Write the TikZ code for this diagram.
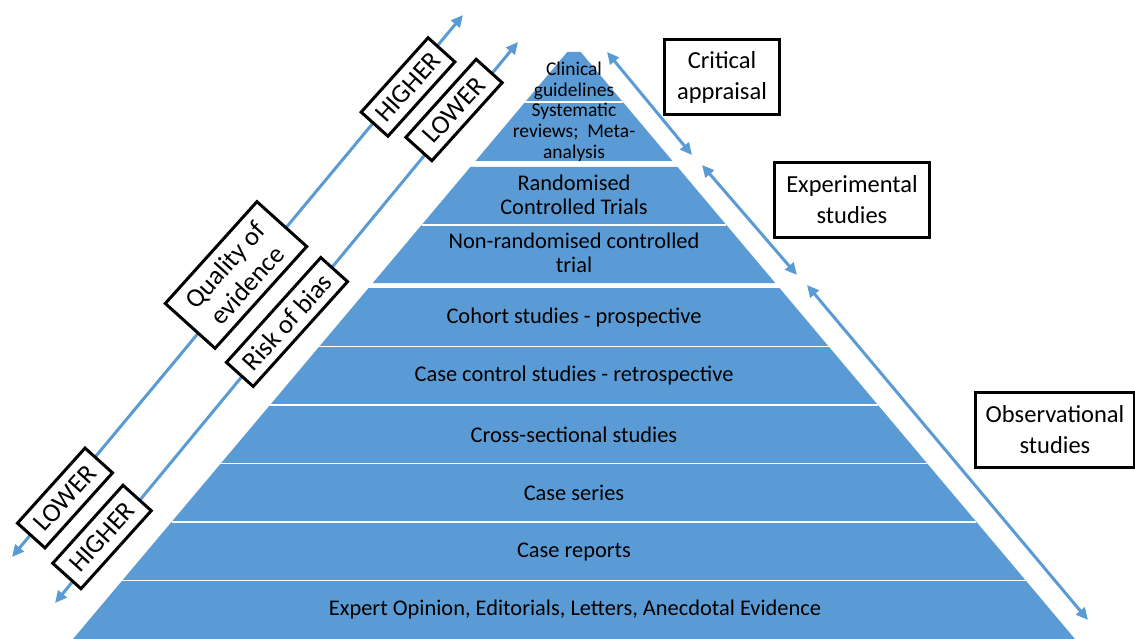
\documentclass[tikz,border=0pt]{standalone}
\usepackage{fontspec}
\setmainfont{Carlito}
\usetikzlibrary{arrows.meta}

\definecolor{pyrblue}{HTML}{5B9BD5}
% half width of the pyramid at height y
\newcommand{\pyrw}[1]{0.842*(#1-44)}

\begin{document}
\begin{tikzpicture}[
            x=1pt, y=-1pt,
            level/.style={fill=pyrblue},
            gapline/.style={white, line width=1.5pt},
            lvltext/.style={
                    font=\fontsize{22.4}{24}\selectfont,
                    align=center,
                    inner sep=0pt
                },
            toptext/.style={
                    font=\fontsize{19.5}{21}\selectfont,
                    align=center,
                    inner sep=0pt
                },
            tagbox/.style={
                    rectangle,
                    draw,
                    fill=white,
                    line width=3pt,
                    align=center,
                    inner sep=0pt,
                    font=\fontsize{24.5}{31}\selectfont
                },
            slantbox/.style={tagbox, rotate=48, font=\fontsize{26.5}{30}\selectfont},
            arrow/.style={
            {Triangle[length=12pt,width=11pt]}-{Triangle[length=12pt,width=11pt]},
            pyrblue,
            line width=3pt
            }
            ]

            \useasboundingbox (0,0) rectangle (1135,639);

            % Pyramid
            \fill[level] ({574-\pyrw{52}},52) -- ({574+\pyrw{52}},52)
                -- ({574+\pyrw{161}},161) -- ({574-\pyrw{161}},161) -- cycle;
            \fill[level] ({574-\pyrw{167}},167) -- ({574+\pyrw{167}},167)
                -- ({574+\pyrw{283}},283) -- ({574-\pyrw{283}},283) -- cycle;
            \fill[level] ({574-\pyrw{288}},288) -- ({574+\pyrw{288}},288)
                -- ({574+\pyrw{645}},645) -- ({574-\pyrw{645}},645) -- cycle;

            \draw[gapline] ({574-\pyrw{102}},102) -- ({574+\pyrw{102}},102);
            \draw[gapline] ({574-\pyrw{225}},225) -- ({574+\pyrw{225}},225);
            \draw[gapline] ({574-\pyrw{346.5}},346.5) -- ({574+\pyrw{346.5}},346.5);
            \draw[gapline] ({574-\pyrw{405}},405) -- ({574+\pyrw{405}},405);
            \draw[gapline] ({574-\pyrw{463.5}},463.5) -- ({574+\pyrw{463.5}},463.5);
            \draw[gapline] ({574-\pyrw{522}},522) -- ({574+\pyrw{522}},522);
            \draw[gapline] ({574-\pyrw{580.5}},580.5) -- ({574+\pyrw{580.5}},580.5);

            % Levels
            \node (guide) [toptext] at (574,81) {Clinical\\guidelines};
            \node (sysrev) [toptext] at (574,132) {Systematic\\reviews;~ Meta-\\analysis};
            \node (rct) [lvltext] at (574,195) {Randomised\\Controlled Trials};
            \node (nrct) [lvltext] at (574,253) {Non-randomised controlled\\trial};
            \node (cohort) [lvltext] at (574,318) {Cohort studies - prospective};
            \node (casectl) [lvltext] at (574,376) {Case control studies - retrospective};
            \node (cross) [lvltext] at (574,435) {Cross-sectional studies};
            \node (series) [lvltext] at (574,493) {Case series};
            \node (reports) [lvltext] at (574,552) {Case reports};
            \node (expert) [lvltext] at (575,610) {Expert Opinion, Editorials, Letters, Anecdotal Evidence};

            % Arrow ends
            \coordinate (qual-lo) at (12,557);
            \coordinate (qual-hi) at (463,15);
            \coordinate (bias-lo) at (55,603);
            \coordinate (bias-hi) at (518,42);
            \coordinate (crit-a) at (607,52);
            \coordinate (crit-b) at (692,155);
            \coordinate (exp-a) at (702,165);
            \coordinate (exp-b) at (797,275);
            \coordinate (obs-a) at (807,285);
            \coordinate (obs-b) at (1088,620);

            % Arrows
            \draw [arrow] (qual-lo) -- (qual-hi);
            \draw [arrow] (bias-lo) -- (bias-hi);
            \draw [arrow] (crit-a) -- (crit-b);
            \draw [arrow] (exp-a) -- (exp-b);
            \draw [arrow] (obs-a) -- (obs-b);

            % Labels on the left
            \node (hiQ) [slantbox, minimum width=100pt, minimum height=36pt] at (408,87) {HIGHER};
            \node (loB) [slantbox, minimum width=105pt, minimum height=35pt] at (454,110) {LOWER};
            \node (quality) [slantbox, minimum width=137pt, minimum height=67pt] at (236,275) {Quality of\\evidence};
            \node (bias) [slantbox, minimum width=141pt, minimum height=36pt] at (287,322) {Risk of bias};
            \node (loQ) [slantbox, minimum width=101pt, minimum height=37pt] at (65,498) {LOWER};
            \node (hiB) [slantbox, minimum width=105pt, minimum height=38pt] at (102,537) {HIGHER};

            % Labels on the right
            \node (critical) [tagbox, minimum width=115pt, minimum height=75pt] at (722,77) {Critical\\appraisal};
            \node (experim) [tagbox, minimum width=155pt, minimum height=75pt] at (852,200) {Experimental\\studies};
            \node (observ) [tagbox, minimum width=159pt, minimum height=75pt] at (1055,430) {Observational\\studies};

        \end{tikzpicture}
\end{document}
